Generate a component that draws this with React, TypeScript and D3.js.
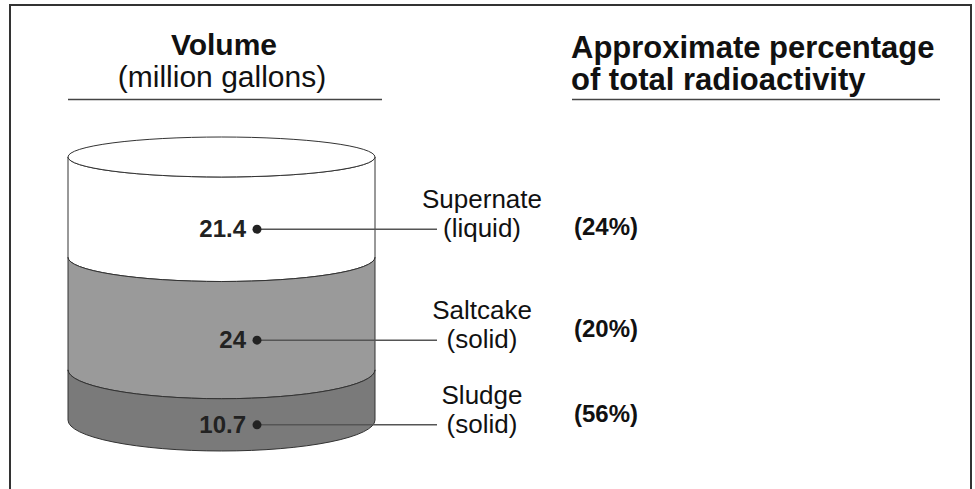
import React from 'react';
import * as d3 from 'd3';

// tank layers, top to bottom
const layers = ['Supernate', 'Saltcake', 'Sludge'];
const states = ['(liquid)', '(solid)', '(solid)'];
const volumes = [21.4, 24, 10.7]; // million gallons
const radioactivity = [24, 20, 56]; // approx % of total

const width = 975;
const height = 489;
const font = '"Liberation Sans", Arial, sans-serif';

const App = () => {
  const cx = 221.5;
  const rx = 153.5;
  const total = d3.sum(volumes);

  const yscale = d3.scaleLinear().domain([0, total]).range([420, 157]);
  // ellipses flatten toward the top of the tank
  const ryscale = d3.scaleLinear().domain([157, 420]).range([20, 31]);
  const fill = d3.scaleOrdinal<string, string>().domain(layers).range(['#ffffff', '#9a9a9a', '#7a7a7a']);

  // cumulative tops from the bottom up
  let acc = total;
  const segs = layers.map((name, i) => {
    const yt = yscale(acc);
    acc -= volumes[i];
    const yb = yscale(acc);
    const rt = ryscale(yt);
    const rb = ryscale(yb);
    const dotY = ((yt + rt) + (yb + rb)) / 2;
    return { name, i, yt, yb, rt, rb, dotY };
  });

  const layerPath = (s: any) =>
    `M${cx - rx},${s.yt} L${cx - rx},${s.yb} A${rx},${s.rb} 0 0 0 ${cx + rx},${s.yb} ` +
    `L${cx + rx},${s.yt} A${rx},${s.rt} 0 0 1 ${cx - rx},${s.yt} Z`;

  const top = segs[0];
  const dotX = 257;
  const lineEnd = 437;
  const labelX = 482;
  const pctX = 574;
  const pctShift = [6, -3, -3];

  return (
    <svg width={width} height={height} style={{ position: 'absolute', left: 0, top: 0, background: '#fff' }} fontFamily={font}>
      <rect x={10} y={5} width={961} height={520} fill="none" stroke="#333" strokeWidth={2} />

      <g fill="#111" textAnchor="middle">
        <text x={224} y={55} fontSize={30} fontWeight="bold">Volume</text>
        <text x={222} y={87} fontSize={30}>(million gallons)</text>
      </g>
      <line x1={68} x2={382} y1={99.5} y2={99.5} stroke="#444" strokeWidth={1.5} />

      <g fill="#111">
        <text x={571} y={58} fontSize={31} fontWeight="bold">Approximate percentage</text>
        <text x={571} y={90} fontSize={31} fontWeight="bold">of total radioactivity</text>
      </g>
      <line x1={572} x2={940} y1={99.5} y2={99.5} stroke="#444" strokeWidth={1.5} />

      <g stroke="#333" strokeWidth={1}>
        {segs.map(s => (
          <path key={s.name} d={layerPath(s)} fill={fill(s.name)} />
        ))}
        <ellipse cx={cx} cy={top.yt} rx={rx} ry={top.rt} fill="#fff" />
      </g>

      {segs.map(s => (
        <g key={'lab' + s.name}>
          <line x1={dotX} x2={lineEnd} y1={s.dotY} y2={s.dotY} stroke="#555" strokeWidth={1.5} />
          <circle cx={dotX} cy={s.dotY} r={4.5} fill="#222" />
          <text x={dotX - 11} y={s.dotY + 8} textAnchor="end" fontSize={24} fontWeight="bold" fill="#222">
            {volumes[s.i]}
          </text>
          <text x={labelX} y={s.dotY - 21} textAnchor="middle" fontSize={26} fill="#111">{s.name}</text>
          <text x={labelX} y={s.dotY + 8} textAnchor="middle" fontSize={26} fill="#111">{states[s.i]}</text>
          <text x={pctX} y={s.dotY + pctShift[s.i]} fontSize={24} fontWeight="bold" fill="#111">
            ({radioactivity[s.i]}%)
          </text>
        </g>
      ))}
    </svg>
  );
};

export default App;
